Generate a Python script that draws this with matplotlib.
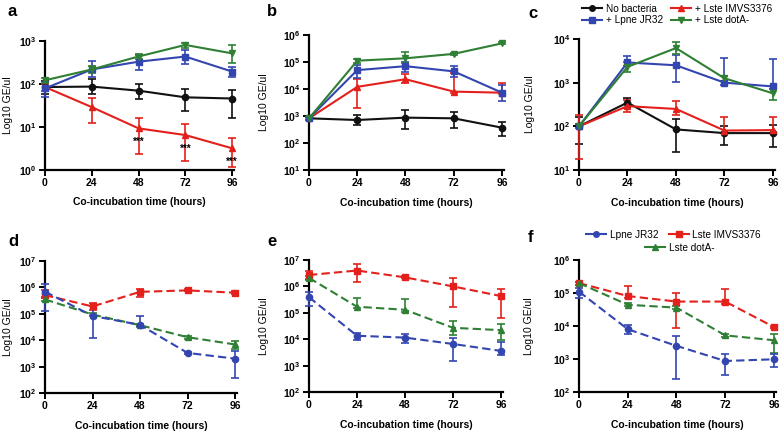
import numpy as np
import matplotlib
matplotlib.use("Agg")
import matplotlib.pyplot as plt
from matplotlib.ticker import FuncFormatter, FixedLocator, NullLocator
from matplotlib.lines import Line2D

plt.rcParams["font.family"] = ["Liberation Sans", "DejaVu Sans"]
plt.rcParams["mathtext.fontset"] = "custom"
plt.rcParams["mathtext.rm"] = "Liberation Sans"
plt.rcParams["mathtext.bf"] = "Liberation Sans:bold"

times = [0, 24, 48, 72, 96]

# panel a (values, lower and upper error bar ends)
a_none = [85, 87, 70, 49, 46]
a_none_lo = [60, 60, 45, 24, 16]
a_none_hi = [120, 130, 100, 75, 72]
a_lpne = [79, 218, 330, 435, 195]
a_lpne_lo = [50, 143, 210, 290, 148]
a_lpne_hi = [110, 350, 470, 620, 250]
a_lste = [85, 29, 9.3, 6.5, 3.2]
a_lste_lo = [70, 12.5, 2.4, 1.6, 1.2]
a_lste_hi = [100, 48, 16.5, 11.7, 5.5]
a_dota = [122, 218, 436, 810, 516]
a_dota_lo = [105, 180, 380, 700, 310]
a_dota_hi = [140, 260, 500, 900, 810]

# panel b
b_none = [820, 710, 870, 820, 370]
b_none_lo = [700, 460, 320, 345, 175]
b_none_hi = [950, 1100, 1600, 1370, 615]
b_lpne = [820, 50000, 70000, 45000, 7300]
b_lpne_lo = [700, 26000, 42000, 27000, 3700]
b_lpne_hi = [950, 80000, 100000, 69000, 14000]
b_lste = [820, 12000, 23000, 8000, 7300]
b_lste_lo = [700, 2000, 16000, 7000, 6500]
b_lste_hi = [950, 23000, 35000, 40000, 17000]
b_dota = [820, 112000, 137000, 200000, 490000]
b_dota_lo = [700, 95000, 90000, 180000, 450000]
b_dota_hi = [950, 125000, 230000, 220000, 530000]

# panel c
c_none = [100, 350, 85, 70, 70]
c_none_lo = [40, 260, 26, 38, 34]
c_none_hi = [160, 440, 146, 100, 105]
c_lpne = [100, 2900, 2500, 1000, 820]
c_lpne_lo = [90, 2400, 1050, 900, 700]
c_lpne_hi = [115, 4000, 4300, 3600, 3400]
c_lste = [100, 290, 250, 80, 82]
c_lste_lo = [18, 210, 180, 70, 70]
c_lste_hi = [180, 400, 385, 160, 160]
c_dota = [100, 2300, 6200, 1260, 570]
c_dota_lo = [90, 1800, 4600, 1100, 410]
c_dota_hi = [115, 3000, 8400, 1450, 730]

# panel d
d_lpne = [690000, 83000, 38000, 3300, 2000]
d_lpne_lo = [130000, 12000, 34000, 3000, 370]
d_lpne_hi = [1300000, 190000, 83000, 3700, 3800]
d_lste = [510000, 190000, 680000, 770000, 630000]
d_lste_lo = [400000, 140000, 420000, 700000, 580000]
d_lste_hi = [780000, 260000, 900000, 850000, 700000]
d_dota = [350000, 94000, 37000, 13000, 6900]
d_dota_lo = [300000, 85000, 33000, 11500, 4500]
d_dota_hi = [420000, 105000, 42000, 14500, 9700]

# panel e
e_lpne = [390000, 13500, 11500, 6600, 3600]
e_lpne_lo = [180000, 9100, 6900, 1500, 2600]
e_lpne_hi = [630000, 17800, 16000, 11400, 7600]
e_lste = [2700000, 4000000, 2200000, 1000000, 430000]
e_lste_lo = [1900000, 1500000, 2000000, 160000, 63000]
e_lste_hi = [3800000, 7300000, 2500000, 2000000, 810000]
e_dota = [2100000, 170000, 130000, 27000, 22000]
e_dota_lo = [1800000, 150000, 110000, 14400, 9300]
e_dota_hi = [2400000, 370000, 320000, 50000, 38000]

# panel f
f_lpne = [110000, 8000, 2500, 870, 980]
f_lpne_lo = [72000, 5600, 240, 330, 570]
f_lpne_hi = [145000, 10700, 5000, 1380, 1400]
f_lste = [200000, 81000, 55000, 55000, 9300]
f_lste_lo = [180000, 70000, 9000, 48000, 8500]
f_lste_hi = [220000, 160000, 100000, 130000, 10000]
f_dota = [200000, 44000, 36000, 5200, 3700]
f_dota_lo = [180000, 39000, 32000, 4800, 1550]
f_dota_hi = [220000, 50000, 40000, 5600, 5900]

BLACK = "#111111"
RED = "#e3201b"
BLUE = "#3346b0"
GREEN = "#2f7f34"


def series(ax, v, lo, hi, color, marker, dashed=False, ms=4.5):
    v = np.array(v, dtype=float)
    yerr = [v - np.array(lo), np.array(hi) - v]
    ax.errorbar(times, v, yerr=yerr, color=color, marker=marker, ms=ms,
                lw=1.5, elinewidth=1.2, capsize=3, capthick=1.2,
                ls=(0, (4, 2)) if dashed else "-", clip_on=False, zorder=3)


def style(ax, ylo, yhi, ylab_x):
    ax.set_yscale("log")
    ax.set_xlim(0, 97)
    ax.set_ylim(ylo, yhi)
    ax.xaxis.set_major_locator(FixedLocator(times))
    exps = range(int(round(np.log10(ylo))), int(round(np.log10(yhi))) + 1)
    ax.yaxis.set_major_locator(FixedLocator([10.0 ** e for e in exps]))
    ax.yaxis.set_minor_locator(NullLocator())
    ax.yaxis.set_major_formatter(FuncFormatter(
        lambda v, p: r"$\mathbf{10^{%d}}$" % round(np.log10(v))))
    for s in ("top", "right"):
        ax.spines[s].set_visible(False)
    for s in ("left", "bottom"):
        ax.spines[s].set_linewidth(1.6)
    ax.tick_params(width=1.4, length=4, labelsize=7.5, pad=2)
    for t in ax.get_xticklabels():
        t.set_fontweight("bold")
    ax.set_xlabel("Co-incubation time (hours)", fontsize=7.5, fontweight="semibold")
    ax.set_ylabel("Log10 GE/ul", fontsize=7.5)
    ax.xaxis.set_label_coords(0.5, -0.21)
    ax.yaxis.set_label_coords(ylab_x, 0.5)


W, H = 780, 436
fig = plt.figure(figsize=(7.8, 4.36), dpi=100)


def rect(l, r, t, b):
    return [l / W, 1 - b / H, (r - l) / W, (b - t) / H]


ax_a = fig.add_axes(rect(45, 234, 41, 170))
ax_b = fig.add_axes(rect(309, 504, 35, 170))
ax_c = fig.add_axes(rect(579, 775, 39, 170))
ax_d = fig.add_axes(rect(45, 237, 261, 393))
ax_e = fig.add_axes(rect(309, 503, 260, 392))
ax_f = fig.add_axes(rect(579, 776, 260, 392))

# top row: solid lines
series(ax_a, a_none, a_none_lo, a_none_hi, BLACK, "o")
series(ax_a, a_lste, a_lste_lo, a_lste_hi, RED, "^")
series(ax_a, a_lpne, a_lpne_lo, a_lpne_hi, BLUE, "s", ms=4)
series(ax_a, a_dota, a_dota_lo, a_dota_hi, GREEN, "v")
style(ax_a, 1, 1e3, -0.171)
for t, v in zip(times[2:], a_lste[2:]):
    ax_a.annotate("***", (t, v), xytext=(0, -10), textcoords="offset points",
                  ha="center", va="center", fontsize=7, fontweight="bold")

series(ax_b, b_none, b_none_lo, b_none_hi, BLACK, "o")
series(ax_b, b_lste, b_lste_lo, b_lste_hi, RED, "^")
series(ax_b, b_lpne, b_lpne_lo, b_lpne_hi, BLUE, "s", ms=4)
series(ax_b, b_dota, b_dota_lo, b_dota_hi, GREEN, "v")
style(ax_b, 10, 1e6, -0.207)

series(ax_c, c_none, c_none_lo, c_none_hi, BLACK, "o")
series(ax_c, c_lste, c_lste_lo, c_lste_hi, RED, "^")
series(ax_c, c_lpne, c_lpne_lo, c_lpne_hi, BLUE, "s", ms=4)
series(ax_c, c_dota, c_dota_lo, c_dota_hi, GREEN, "v")
style(ax_c, 10, 1e4, -0.227)

top_handles = [
    Line2D([], [], color=BLACK, marker="o", ms=4, lw=1.5),
    Line2D([], [], color=BLUE, marker="s", ms=4, lw=1.5),
    Line2D([], [], color=RED, marker="^", ms=4, lw=1.5),
    Line2D([], [], color=GREEN, marker="v", ms=4, lw=1.5),
]
top_labels = ["No bacteria", "+ Lpne JR32", "+ Lste IMVS3376", "+ Lste dotA-"]
fig.legend(top_handles, top_labels, ncol=2, frameon=False, fontsize=7.2,
           loc="upper left", bbox_to_anchor=(576 / W, 1 + 2 / H),
           handlelength=2.0, handletextpad=0.4, columnspacing=0.8,
           labelspacing=0.15, borderpad=0.1)

# bottom row: dashed lines
series(ax_d, d_lste, d_lste_lo, d_lste_hi, RED, "s", True, ms=4)
series(ax_d, d_dota, d_dota_lo, d_dota_hi, GREEN, "^", True)
series(ax_d, d_lpne, d_lpne_lo, d_lpne_hi, BLUE, "o", True)
style(ax_d, 1e2, 1e7, -0.168)

series(ax_e, e_lste, e_lste_lo, e_lste_hi, RED, "s", True, ms=4)
series(ax_e, e_dota, e_dota_lo, e_dota_hi, GREEN, "^", True)
series(ax_e, e_lpne, e_lpne_lo, e_lpne_hi, BLUE, "o", True)
style(ax_e, 1e2, 1e7, -0.207)

series(ax_f, f_lste, f_lste_lo, f_lste_hi, RED, "s", True, ms=4)
series(ax_f, f_dota, f_dota_lo, f_dota_hi, GREEN, "^", True)
series(ax_f, f_lpne, f_lpne_lo, f_lpne_hi, BLUE, "o", True)
style(ax_f, 1e2, 1e6, -0.227)

bot_handles = [
    Line2D([], [], color=BLUE, marker="o", ms=4, lw=1.5),
    Line2D([], [], color=RED, marker="s", ms=4, lw=1.5),
]
fig.legend(bot_handles, ["Lpne JR32", "Lste IMVS3376"], ncol=2, frameon=False,
           fontsize=7.2, loc="upper left", bbox_to_anchor=(580 / W, 1 - 224 / H),
           handlelength=2.0, handletextpad=0.4, columnspacing=1.0, borderpad=0.1)
fig.legend([Line2D([], [], color=GREEN, marker="^", ms=4, lw=1.5)], ["Lste dotA-"],
           frameon=False, fontsize=7.2, loc="upper left",
           bbox_to_anchor=(639 / W, 1 - 237 / H),
           handlelength=2.0, handletextpad=0.4, borderpad=0.1)

# panel letters
for letter, x, y in [("a", 8, 12), ("b", 267, 12), ("c", 528, 14),
                     ("d", 8, 241), ("e", 267, 241), ("f", 528, 237)]:
    fig.text(x / W, 1 - y / H, letter, fontsize=12, fontweight="bold",
             ha="left", va="center")

fig.savefig("out.png", dpi=100)
